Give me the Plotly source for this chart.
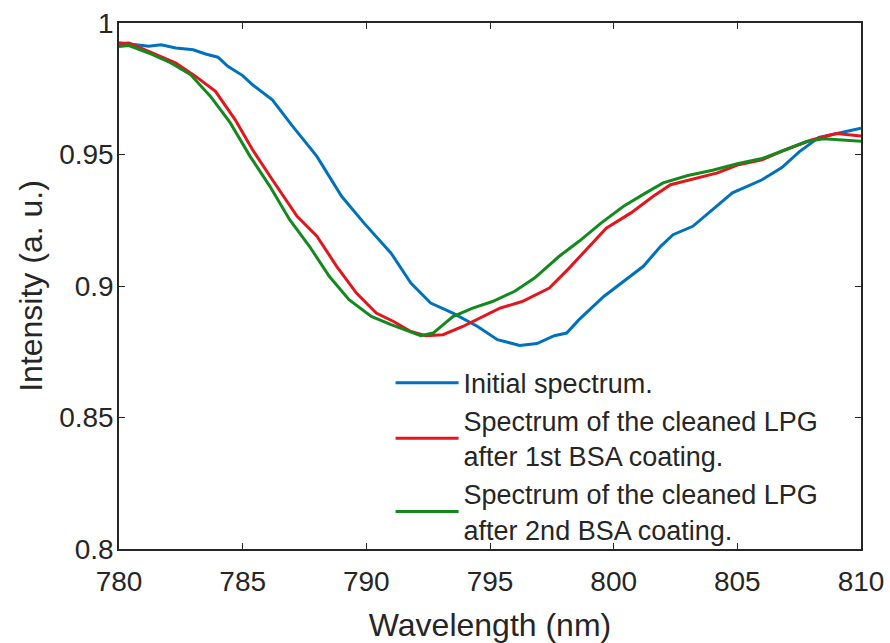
import plotly.graph_objects as go

# Transmission spectra of the long-period grating (LPG), wavelength in nm
wl_initial = [780.0, 780.5, 781.2, 781.7, 782.3, 783.0, 783.5, 784.0, 784.4, 785.0,
              785.4, 786.2, 787.0, 788.0, 789.0, 789.9, 791.0, 791.8, 792.6, 793.5,
              794.5, 795.3, 796.2, 796.9, 797.6, 798.1, 798.6, 799.6, 800.4, 801.2,
              801.9, 802.4, 803.2, 804.0, 804.8, 805.4, 806.0, 806.8, 807.5, 808.3,
              809.2, 810.0]
int_initial = [0.9925, 0.9920, 0.9912, 0.9917, 0.9905, 0.9898, 0.9882, 0.9870, 0.9835, 0.9800,
               0.9765, 0.9708, 0.9610, 0.9493, 0.9341, 0.9240, 0.9125, 0.9011, 0.8935, 0.8897,
               0.8846, 0.8796, 0.8774, 0.8781, 0.8811, 0.8821, 0.8872, 0.8960, 0.9018, 0.9075,
               0.9151, 0.9195, 0.9227, 0.9290, 0.9354, 0.9379, 0.9404, 0.9450, 0.9510, 0.9565,
               0.9585, 0.9600]

wl_coat1 = [780.0, 780.4, 781.2, 782.3, 783.1, 783.9, 784.7, 785.4, 786.2, 787.2,
            788.0, 788.8, 789.6, 790.4, 791.1, 791.8, 792.4, 793.1, 793.9, 794.6,
            795.4, 796.3, 797.4, 798.2, 799.0, 799.7, 800.7, 801.6, 802.3, 803.2,
            804.2, 805.0, 806.0, 807.0, 808.0, 809.0, 810.0]
int_coat1 = [0.9921, 0.9924, 0.9892, 0.9848, 0.9797, 0.9740, 0.9632, 0.9518, 0.9404, 0.9265,
             0.9189, 0.9075, 0.8973, 0.8897, 0.8865, 0.8827, 0.8811, 0.8815, 0.8846, 0.8880,
             0.8916, 0.8941, 0.8992, 0.9068, 0.9151, 0.9220, 0.9278, 0.9341, 0.9385, 0.9405,
             0.9430, 0.9460, 0.9480, 0.9520, 0.9555, 0.9580, 0.9570]

wl_coat2 = [780.0, 780.4, 781.2, 782.1, 782.9, 783.7, 784.5, 785.3, 786.1, 786.9,
            787.7, 788.5, 789.3, 790.2, 791.0, 791.8, 792.2, 792.7, 793.5, 794.3,
            795.1, 796.0, 796.8, 797.8, 798.6, 799.5, 800.4, 801.3, 802.0, 803.0,
            804.0, 805.0, 806.0, 807.0, 807.8, 808.5, 809.2, 810.0]
int_coat2 = [0.9911, 0.9914, 0.9886, 0.9848, 0.9803, 0.9721, 0.9620, 0.9493, 0.9379, 0.9252,
             0.9151, 0.9037, 0.8948, 0.8884, 0.8853, 0.8827, 0.8811, 0.8821, 0.8884, 0.8916,
             0.8941, 0.8980, 0.9030, 0.9113, 0.9170, 0.9240, 0.9303, 0.9354, 0.9392, 0.9420,
             0.9440, 0.9465, 0.9485, 0.9520, 0.9550, 0.9560, 0.9555, 0.9550]

x_ticks = [780, 785, 790, 795, 800, 805, 810]
y_ticks = [0.8, 0.85, 0.9, 0.95, 1.0]
y_tick_text = ["0.8", "0.85", "0.9", "0.95", "1"]

series_names = [
    "Initial spectrum.",
    "Spectrum of the cleaned LPG<br>after 1st BSA coating.",
    "Spectrum of the cleaned LPG<br>after 2nd BSA coating.",
]
series_colors = ["#0072BD", "#E3161E", "#148A1E"]

FONT = "Liberation Sans, Arial, sans-serif"
INK = "#262626"

fig = go.Figure()
for xs, ys, name, color in zip(
    [wl_initial, wl_coat1, wl_coat2],
    [int_initial, int_coat1, int_coat2],
    series_names,
    series_colors,
):
    fig.add_trace(go.Scatter(x=xs, y=ys, mode="lines", name=name,
                             line=dict(color=color, width=3)))

axis_common = dict(
    showline=True, linecolor=INK, linewidth=1.5, mirror="ticks",
    ticks="inside", ticklen=6, tickwidth=1, tickcolor=INK,
    showgrid=False, zeroline=False, automargin=False,
    tickfont=dict(family=FONT, size=28, color=INK),
)

fig.update_xaxes(range=[780, 810], tickvals=x_ticks,
                 ticklabelstandoff=7,
                 title=dict(text="Wavelength (nm)", font=dict(family=FONT, size=32, color=INK),
                            standoff=17),
                 **axis_common)
fig.update_yaxes(range=[0.8, 1.0], tickvals=y_ticks, ticktext=y_tick_text,
                 ticklabelstandoff=-2,
                 title=dict(text="Intensity (a. u.)", font=dict(family=FONT, size=32, color=INK),
                            standoff=7),
                 **axis_common)

fig.update_layout(
    width=890, height=643,
    margin=dict(l=119, r=29, t=23, b=94),
    plot_bgcolor="white", paper_bgcolor="white",
    showlegend=True,
    legend=dict(x=0.366, y=0.362, xanchor="left", yanchor="top",
                bgcolor="rgba(0,0,0,0)", borderwidth=0,
                font=dict(family=FONT, size=27, color=INK),
                itemwidth=63, tracegroupgap=0),
)

fig.write_html("out.html")
